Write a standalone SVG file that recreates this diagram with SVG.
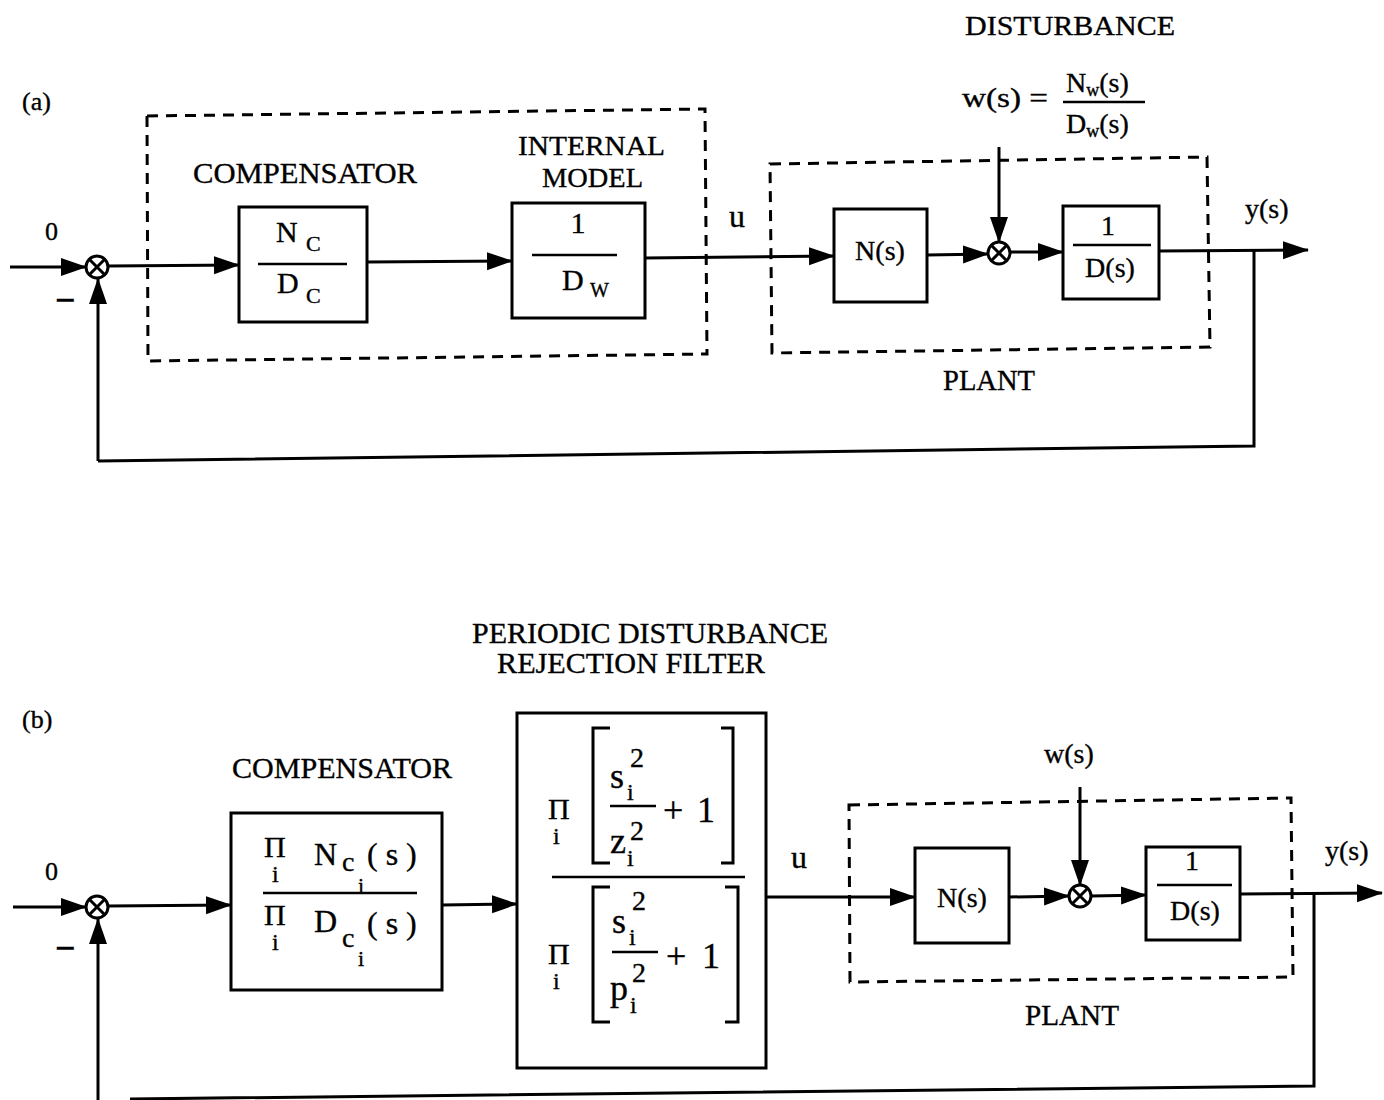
<svg xmlns="http://www.w3.org/2000/svg" width="1384" height="1100" viewBox="0 0 1384 1100">
<style>
text{font-family:"Liberation Serif","Times New Roman",serif;fill:#000;stroke:#000;stroke-width:0.35}
.lbl{font-size:30px}
.box{fill:none;stroke:#000;stroke-width:3}
.dash{fill:none;stroke:#000;stroke-width:3;stroke-dasharray:11 8}
.ln{fill:none;stroke:#000;stroke-width:3}
.arr{fill:none;stroke:#000;stroke-width:3;marker-end:url(#ah)}
.frac{stroke:#000;stroke-width:2.5}
</style>
<defs>
<marker id="ah" markerUnits="userSpaceOnUse" markerWidth="26" markerHeight="20" refX="25" refY="10" orient="auto">
<path d="M0,1 L26,10 L0,19 z" fill="#000"/>
</marker>
<g id="sum">
<circle cx="0" cy="0" r="11" fill="#fff" stroke="#000" stroke-width="3"/>
<path d="M-7,-7 L7,7 M7,-7 L-7,7" stroke="#000" stroke-width="3"/>
</g>
</defs>

<!-- ===== (a) ===== -->
<g id="labels-a">
<text x="22" y="110" font-size="26">(a)</text>
<text x="45" y="240" font-size="26">0</text>
<text x="55" y="312" font-size="36" font-weight="bold">−</text>
<text x="193" y="183" class="lbl" textLength="224" lengthAdjust="spacingAndGlyphs">COMPENSATOR</text>
<text x="518" y="155" font-size="28" textLength="147" lengthAdjust="spacingAndGlyphs">INTERNAL</text>
<text x="542" y="187" font-size="28" textLength="101" lengthAdjust="spacingAndGlyphs">MODEL</text>
<text x="729" y="227" font-size="32">u</text>
<text x="965" y="35" font-size="28" textLength="210" lengthAdjust="spacingAndGlyphs">DISTURBANCE</text>
<text x="962" y="107" font-size="28" textLength="86" lengthAdjust="spacingAndGlyphs">w(s) =</text>
<text x="1066" y="92" font-size="28">N<tspan font-size="18" dy="4">w</tspan><tspan dy="-4">(s)</tspan></text>
<line x1="1063" y1="102" x2="1145" y2="102" class="frac"/>
<text x="1066" y="133" font-size="28">D<tspan font-size="18" dy="4">w</tspan><tspan dy="-4">(s)</tspan></text>
<text x="1245" y="218" font-size="28">y(s)</text>
<text x="943" y="390" class="lbl" textLength="92" lengthAdjust="spacingAndGlyphs">PLANT</text>
</g>

<g id="compensator-group-a">
<path class="dash" d="M147,116 L705,109 L707,354 L148,361 Z"/>
</g>
<g id="plant-group-a">
<path class="dash" d="M770,164 L1207,157 L1210,347 L772,353 Z"/>
</g>

<g id="node-Nc-Dc">
<rect class="box" x="239" y="207" width="128" height="115"/>
<text x="276" y="242" font-size="30">N<tspan x="306" y="251" font-size="22">C</tspan></text>
<line class="frac" x1="258" y1="264" x2="347" y2="264"/>
<text x="277" y="293" font-size="30">D<tspan x="306" y="303" font-size="22">C</tspan></text>
</g>

<g id="node-internal-model">
<rect class="box" x="512" y="203" width="133" height="115"/>
<text x="578" y="233" font-size="30" text-anchor="middle">1</text>
<line class="frac" x1="532" y1="255" x2="617" y2="255"/>
<text x="562" y="290" font-size="30">D<tspan x="590" y="297" font-size="20">W</tspan></text>
</g>

<g id="node-N-a">
<rect class="box" x="834" y="209" width="93" height="93"/>
<text x="880" y="260" font-size="28" text-anchor="middle">N(s)</text>
</g>

<g id="node-D-a">
<rect class="box" x="1063" y="206" width="96" height="93"/>
<text x="1108" y="235" font-size="28" text-anchor="middle">1</text>
<line class="frac" x1="1073" y1="245" x2="1151" y2="245"/>
<text x="1110" y="277" font-size="28" text-anchor="middle">D(s)</text>
</g>

<g id="sum1-a"><use href="#sum" x="97" y="267"/></g>
<g id="sum2-a"><use href="#sum" x="999" y="253"/></g>

<g id="connectors-a">
<line class="arr" x1="10" y1="267" x2="86" y2="267"/>
<line class="arr" x1="108" y1="266" x2="239" y2="265"/>
<line class="arr" x1="367" y1="262" x2="512" y2="261"/>
<line class="arr" x1="645" y1="258" x2="834" y2="256"/>
<line class="arr" x1="927" y1="255" x2="988" y2="254"/>
<line class="arr" x1="999" y1="147" x2="999" y2="242"/>
<line class="arr" x1="1010" y1="252" x2="1063" y2="252"/>
<line class="arr" x1="1159" y1="251" x2="1308" y2="250"/>
<polyline class="ln" points="1254,251 1254,446 98,461"/>
<line class="arr" x1="98" y1="461" x2="98" y2="279"/>
</g>

<!-- ===== (b) ===== -->
<g id="labels-b">
<text x="472" y="643" class="lbl" textLength="356" lengthAdjust="spacingAndGlyphs">PERIODIC DISTURBANCE</text>
<text x="497" y="673" class="lbl" textLength="268" lengthAdjust="spacingAndGlyphs">REJECTION FILTER</text>
<text x="22" y="728" font-size="26">(b)</text>
<text x="232" y="778" class="lbl" textLength="220" lengthAdjust="spacingAndGlyphs">COMPENSATOR</text>
<text x="45" y="880" font-size="26">0</text>
<text x="55" y="960" font-size="36" font-weight="bold">−</text>
<text x="791" y="868" font-size="32">u</text>
<text x="1044" y="763" font-size="28">w(s)</text>
<text x="1325" y="860" font-size="28">y(s)</text>
<text x="1025" y="1025" class="lbl" textLength="94" lengthAdjust="spacingAndGlyphs">PLANT</text>
</g>

<g id="plant-group-b">
<path class="dash" d="M849,805 L1291,798 L1293,977 L850,982 Z"/>
</g>

<g id="node-compensator-b">
<rect class="box" x="231" y="813" width="211" height="177"/>
<text font-size="30"><tspan x="264" y="857">Π</tspan><tspan x="272" y="882" font-size="24">i</tspan><tspan x="314" y="865" font-size="32">N</tspan><tspan x="342" y="871" font-size="28">c</tspan><tspan x="358" y="893" font-size="22">i</tspan><tspan x="367" y="865" font-size="32">( s )</tspan></text>
<line class="frac" x1="263" y1="893" x2="417" y2="893"/>
<text font-size="30"><tspan x="264" y="925">Π</tspan><tspan x="272" y="950" font-size="24">i</tspan><tspan x="314" y="932" font-size="32">D</tspan><tspan x="342" y="947" font-size="28">c</tspan><tspan x="358" y="966" font-size="22">i</tspan><tspan x="367" y="934" font-size="32">( s )</tspan></text>
</g>

<g id="node-filter">
<rect class="box" x="517" y="713" width="249" height="355"/>
<text font-size="30"><tspan x="548" y="819">Π</tspan><tspan x="553" y="844" font-size="24">i</tspan></text>
<path class="ln" d="M610,728 H593 V863 H610 M721,728 H733 V863 H721"/>
<text font-size="36"><tspan x="610" y="788">s</tspan><tspan x="630" y="767" font-size="28">2</tspan><tspan x="627" y="800" font-size="24">i</tspan></text>
<line class="frac" x1="610" y1="806" x2="656" y2="806"/>
<text font-size="36"><tspan x="610" y="853">z</tspan><tspan x="630" y="840" font-size="28">2</tspan><tspan x="627" y="866" font-size="24">i</tspan></text>
<text x="663" y="822" font-size="36" textLength="52" lengthAdjust="spacing">+ 1</text>
<line class="frac" x1="552" y1="877" x2="745" y2="877"/>
<text font-size="30"><tspan x="548" y="964">Π</tspan><tspan x="553" y="989" font-size="24">i</tspan></text>
<path class="ln" d="M610,887 H593 V1022 H610 M725,887 H738 V1022 H725"/>
<text font-size="36"><tspan x="612" y="933">s</tspan><tspan x="632" y="910" font-size="28">2</tspan><tspan x="629" y="945" font-size="24">i</tspan></text>
<line class="frac" x1="612" y1="952" x2="658" y2="952"/>
<text font-size="36"><tspan x="610" y="1000">p</tspan><tspan x="632" y="982" font-size="28">2</tspan><tspan x="630" y="1013" font-size="24">i</tspan></text>
<text x="666" y="968" font-size="36" textLength="54" lengthAdjust="spacing">+ 1</text>
</g>

<g id="node-N-b">
<rect class="box" x="915" y="848" width="94" height="95"/>
<text x="962" y="907" font-size="28" text-anchor="middle">N(s)</text>
</g>

<g id="node-D-b">
<rect class="box" x="1146" y="847" width="94" height="93"/>
<text x="1192" y="870" font-size="28" text-anchor="middle">1</text>
<line class="frac" x1="1157" y1="885" x2="1232" y2="885"/>
<text x="1195" y="920" font-size="28" text-anchor="middle">D(s)</text>
</g>

<g id="sum1-b"><use href="#sum" x="97" y="907"/></g>
<g id="sum2-b"><use href="#sum" x="1080" y="896"/></g>

<g id="connectors-b">
<line class="arr" x1="13" y1="907" x2="86" y2="907"/>
<line class="arr" x1="108" y1="906" x2="231" y2="905"/>
<line class="arr" x1="442" y1="905" x2="517" y2="904"/>
<line class="arr" x1="766" y1="897" x2="915" y2="897"/>
<line class="arr" x1="1009" y1="897" x2="1069" y2="896"/>
<line class="arr" x1="1080" y1="787" x2="1080" y2="885"/>
<line class="arr" x1="1091" y1="896" x2="1146" y2="895"/>
<line class="arr" x1="1240" y1="894" x2="1382" y2="893"/>
<polyline class="ln" points="1314,894 1314,1086 130,1099"/>
<line class="arr" x1="98" y1="1102" x2="98" y2="919"/>
</g>
</svg>
